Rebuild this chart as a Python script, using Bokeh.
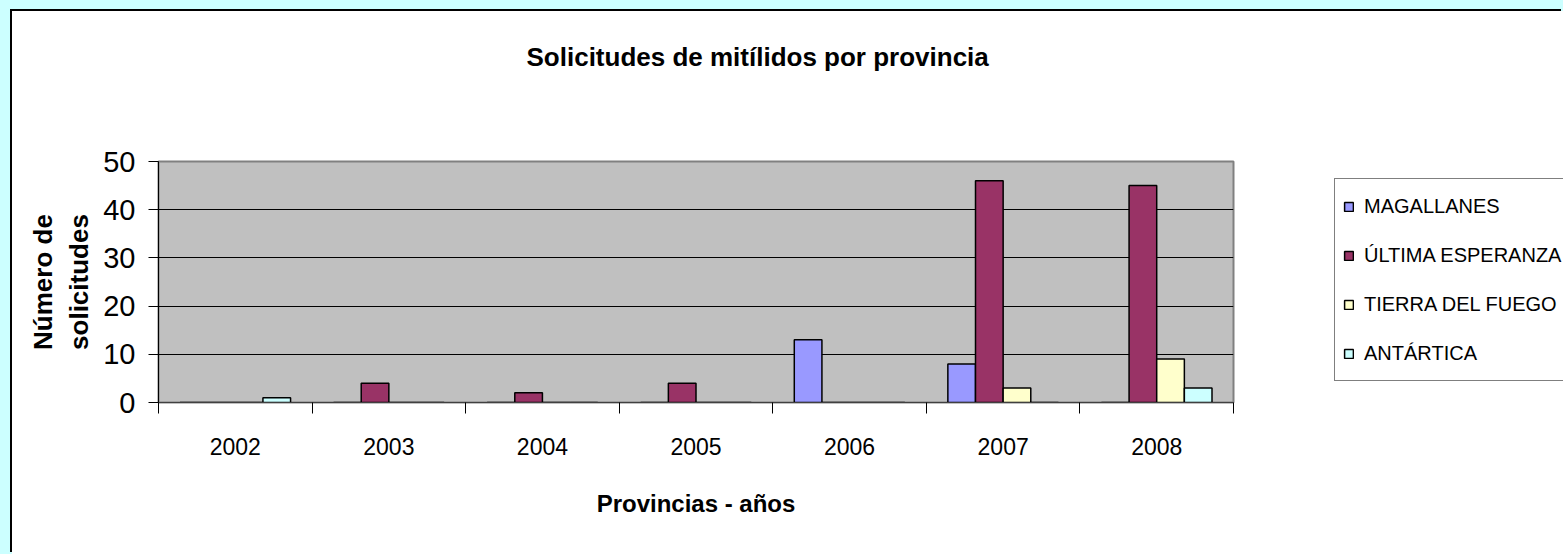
from bokeh.plotting import figure
from bokeh.layouts import row
from bokeh.models import (Range1d, FixedTicker, Legend, LegendItem, ColumnDataSource, Title)
from bokeh.transform import dodge
from bokeh.embed import file_html
from bokeh.resources import INLINE

# ---------------- data ----------------
years = ["2002", "2003", "2004", "2005", "2006", "2007", "2008"]
series_names = ["MAGALLANES", "ÚLTIMA ESPERANZA", "TIERRA DEL FUEGO", "ANTÁRTICA"]
magallanes = [0, 0, 0, 0, 13, 8, 0]
ultima_esperanza = [0, 4, 2, 4, 0, 46, 45]
tierra_del_fuego = [0, 0, 0, 0, 0, 3, 9]
antartica = [1, 0, 0, 0, 0, 0, 3]
y_ticks = [0, 10, 20, 30, 40, 50]

title_text = "Solicitudes de mitílidos por provincia"
x_title = "Provincias - años"
y_title = "Número de\nsolicitudes"

colors = ["#9999FF", "#993366", "#FFFFCC", "#CCFFFF"]
SANS = "Liberation Sans"

pos = list(range(1, len(years) + 1))
source = ColumnDataSource(dict(
    x=pos, years=years,
    s0=magallanes, s1=ultima_esperanza, s2=tierra_del_fuego, s3=antartica,
))

# ---------------- main chart ----------------
p = figure(width=1281, height=543, output_backend="svg", toolbar_location=None, title=None,
           x_range=Range1d(0.5, len(years) + 0.5), y_range=Range1d(0, 50),
           min_border_left=146, min_border_right=60,
           min_border_top=150, min_border_bottom=152)

p.background_fill_color = "#C0C0C0"
p.border_fill_color = "white"
p.outline_line_color = "#808080"
p.outline_line_width = 2

bw = 0.18
offsets = [-1.5 * bw, -0.5 * bw, 0.5 * bw, 1.5 * bw]
for i, (name, col) in enumerate(zip(series_names, colors)):
    p.vbar(x=dodge("x", offsets[i], range=p.x_range), top="s%d" % i, width=bw,
           source=source, fill_color=col, line_color="black", line_width=1.5)

# grid
p.xgrid.grid_line_color = None
p.ygrid.ticker = FixedTicker(ticks=y_ticks)
p.ygrid.grid_line_color = "black"
p.ygrid.grid_line_width = 1

# y axis
p.yaxis.ticker = FixedTicker(ticks=y_ticks)
p.yaxis.major_label_text_font = SANS
p.yaxis.major_label_text_font_size = "29px"
p.yaxis.major_label_text_color = "black"
p.yaxis.major_tick_out = 10
p.yaxis.major_tick_in = 0
p.yaxis.major_tick_line_color = "black"
p.yaxis.minor_tick_line_color = None
p.yaxis.axis_line_color = "black"
p.yaxis.major_label_standoff = 13
p.yaxis.axis_label = y_title
p.yaxis.axis_label_text_font = SANS
p.yaxis.axis_label_text_font_style = "bold"
p.yaxis.axis_label_text_font_size = "26px"
p.yaxis.axis_label_text_color = "black"
p.yaxis.axis_label_standoff = 6

# x axis (labels at centres, tick marks at category boundaries)
p.xaxis.ticker = FixedTicker(ticks=pos, minor_ticks=[k + 0.5 for k in range(len(years) + 1)])
p.xaxis.major_label_overrides = {k: y for k, y in zip(pos, years)}
p.xaxis.major_label_text_font = SANS
p.xaxis.major_label_text_font_size = "23px"
p.xaxis.major_label_text_color = "black"
p.xaxis.major_tick_line_color = None
p.xaxis.major_tick_out = 11
p.xaxis.major_tick_in = 0
p.xaxis.minor_tick_line_color = "black"
p.xaxis.minor_tick_out = 11
p.xaxis.minor_tick_in = 0
p.xaxis.axis_line_color = "#404040"
p.xaxis.major_label_standoff = 24
p.xaxis.axis_label = x_title
p.xaxis.axis_label_text_font = SANS
p.xaxis.axis_label_text_font_style = "bold"
p.xaxis.axis_label_text_font_size = "24px"
p.xaxis.axis_label_text_color = "black"
p.xaxis.axis_label_standoff = 32

# spacer between plot area and title, then the title itself (outermost)
p.add_layout(Title(text=" ", text_font_size="10px", standoff=72), "above")
p.add_layout(Title(text=title_text, align="left", offset=368, standoff=10,
                   text_font=SANS, text_font_style="bold", text_font_size="26px",
                   text_color="black"), "above")

# ---------------- legend panel ----------------
lp = figure(width=270, height=543, output_backend="svg", toolbar_location=None,
            x_axis_type=None, y_axis_type=None, min_border=0,
            x_range=Range1d(0, 1), y_range=Range1d(0, 1))
lp.background_fill_color = "white"
lp.border_fill_color = "white"
lp.outline_line_color = None
lp.xgrid.grid_line_color = None
lp.ygrid.grid_line_color = None
swatches = []
for col in colors:
    r = lp.vbar(x=[0.5], top=[0.5], width=0.1, fill_color=col, line_color="black", line_width=1.5)
    r.visible = False
    swatches.append(r)
legend = Legend(items=[LegendItem(label=n, renderers=[r]) for n, r in zip(series_names, swatches)],
                location=(41, 21), orientation="vertical",
                label_text_font=SANS, label_text_font_size="20px", label_text_color="black",
                glyph_width=11, glyph_height=11, label_height=38, spacing=11,
                padding=8, margin=0, label_standoff=10,
                border_line_color="black", border_line_width=1,
                background_fill_color="white", background_fill_alpha=1.0,
                inactive_fill_alpha=0.0)
lp.add_layout(legend)

layout = row(p, lp)
layout.styles = {"margin-left": "12px", "margin-top": "11px",
                 "box-shadow": "-2px -2px 0 0 #000000, 0 0 0 24px #CCFFFF"}

open("out.html", "w").write(file_html(layout, INLINE))
